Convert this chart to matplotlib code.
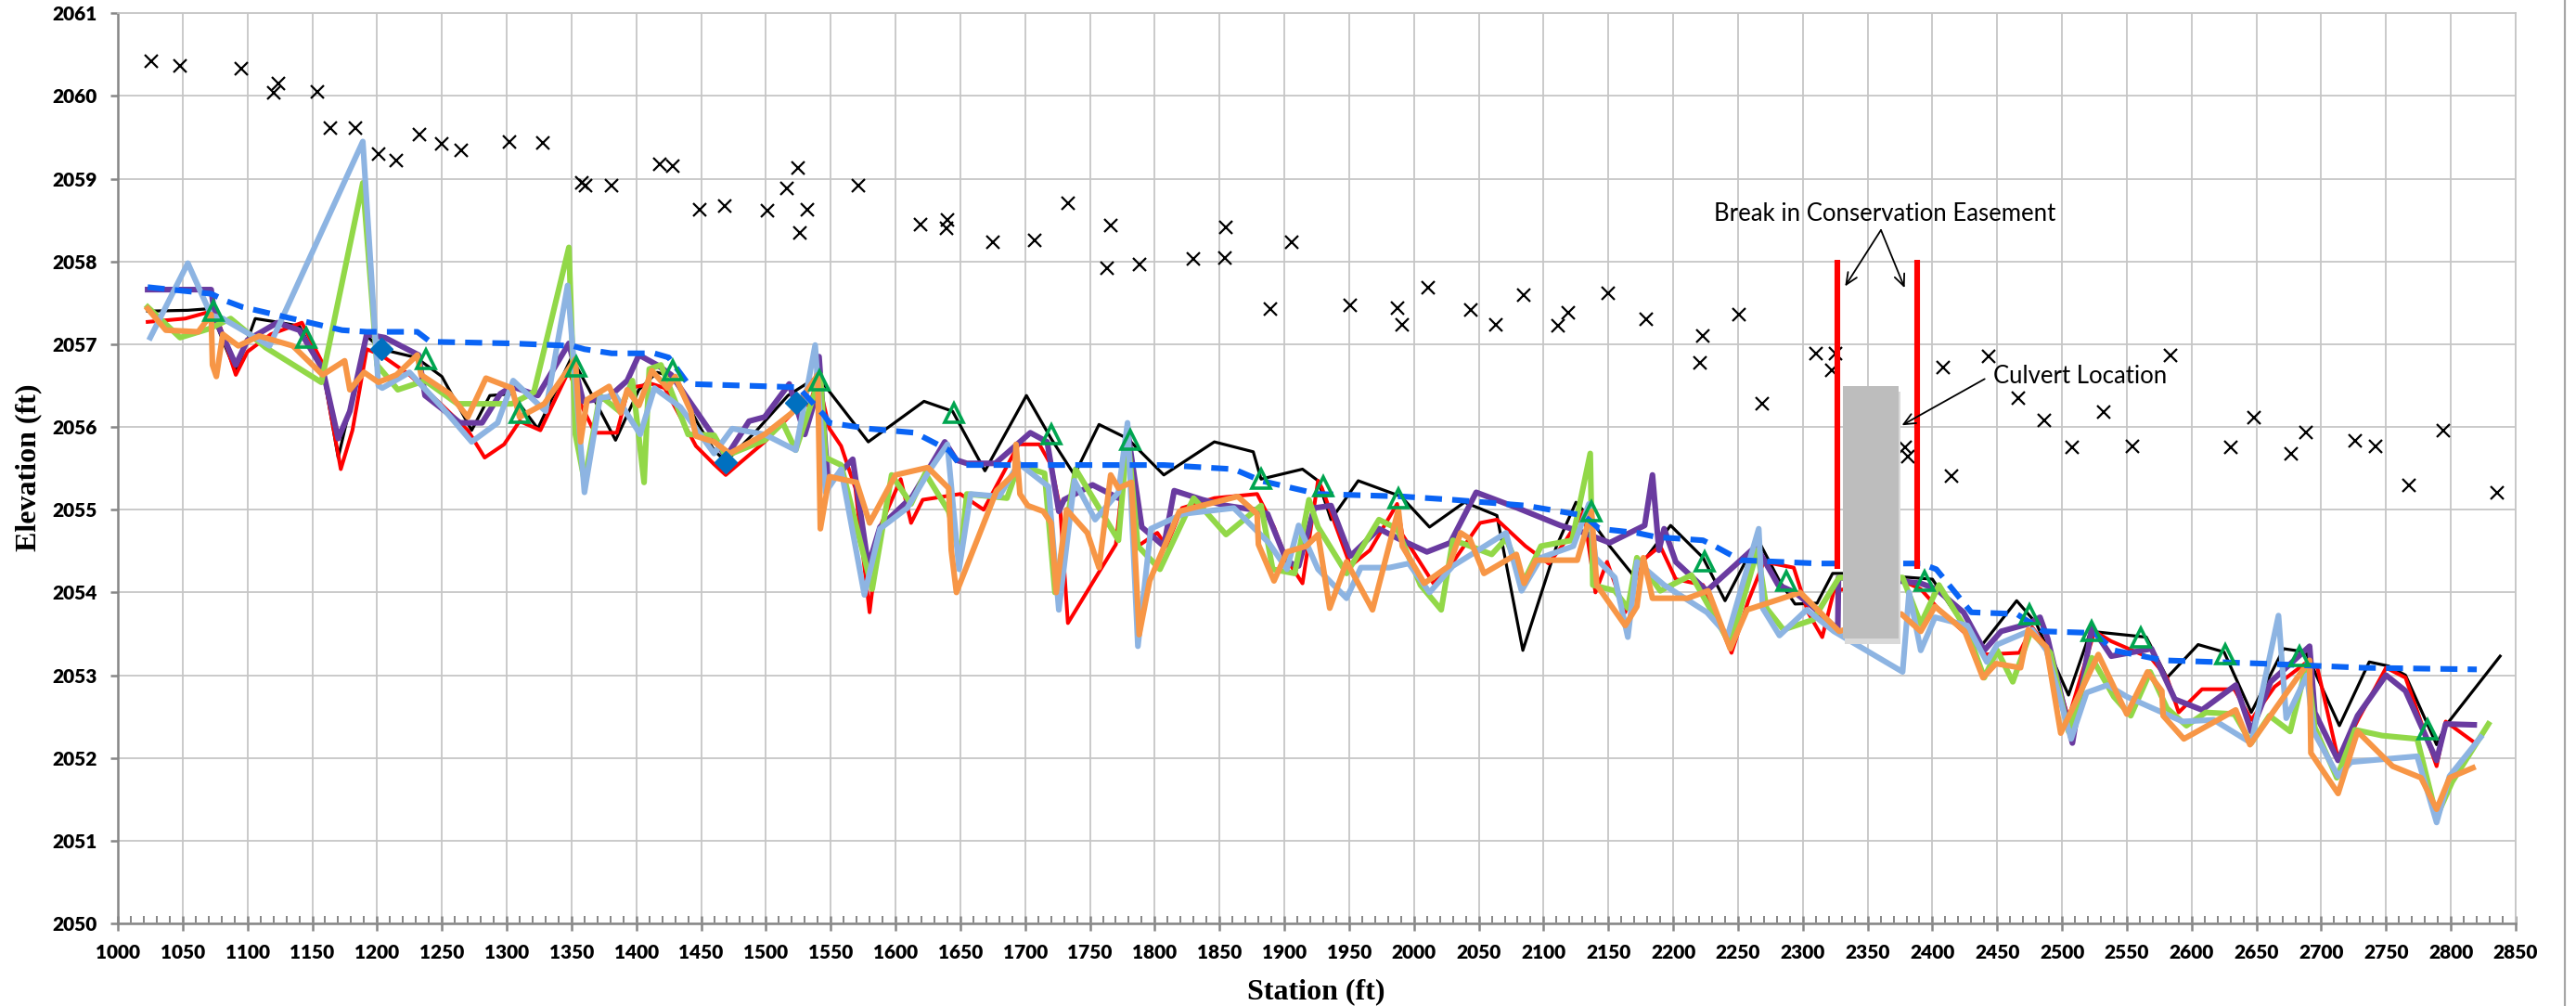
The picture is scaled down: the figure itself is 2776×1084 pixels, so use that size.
import matplotlib
matplotlib.use('Agg')
import matplotlib.pyplot as plt
from matplotlib.ticker import MultipleLocator
from matplotlib.patches import Rectangle
from matplotlib.lines import Line2D

# survey profiles: (station ft, elevation ft)
black = [(1023,2057.40),(1054,2057.41),(1071,2057.43),(1091,2056.66),(1106,2057.31),(1126,2057.26),(1140,2057.22),
         (1158,2056.70),(1170,2055.63),(1192,2057.10),(1203,2056.94),(1230,2056.84),(1250,2056.61),(1273,2055.96),
         (1287,2056.38),(1304,2056.40),(1324,2055.98),(1350,2056.84),(1363,2056.47),(1384,2055.84),(1402,2056.45),
         (1416,2056.66),(1428,2056.61),(1449,2056.00),(1460,2055.72),(1469,2055.58),(1493,2055.96),(1517,2056.38),
         (1540,2056.61),(1579,2055.82),(1622,2056.31),(1644,2056.19),(1669,2055.47),(1701,2056.38),(1720,2055.86),
         (1738,2055.42),(1757,2056.03),(1779,2055.86),(1807,2055.42),(1846,2055.82),(1876,2055.70),(1882,2055.37),
         (1914,2055.49),(1926,2055.35),(1936,2054.88),(1957,2055.35),(1990,2055.16),(2012,2054.79),(2039,2055.09),
         (2064,2054.93),(2084,2053.30),(2110,2054.56),(2125,2055.09),(2134,2054.93),(2151,2054.56),(2169,2054.21),
         (2198,2054.81),(2223,2054.42),(2240,2053.90),(2265,2054.65),(2282,2054.14),(2294,2053.86),(2311,2053.87),
         (2323,2054.23),(2330,2054.23),(2375,2054.19),(2400,2054.16),(2436,2053.32),(2465,2053.90),(2480,2053.63),
         (2505,2052.76),(2522,2053.53),(2565,2053.46),(2581,2052.97),(2605,2053.37),(2625,2053.28),(2646,2052.55),
         (2671,2053.32),(2688,2053.28),(2714,2052.39),(2737,2053.16),(2752,2053.11),(2765,2053.00),(2789,2052.16),
         (2796,2052.39),(2838,2053.23)]

red = [(1023,2057.27),(1052,2057.31),(1068,2057.38),(1075,2057.40),(1091,2056.63),(1100,2056.91),(1118,2057.12),
       (1142,2057.26),(1157,2056.80),(1172,2055.49),(1181,2055.96),(1192,2056.94),(1203,2056.87),(1225,2056.63),
       (1249,2056.28),(1270,2055.96),(1283,2055.63),(1298,2055.79),(1310,2056.07),(1326,2055.96),(1348,2056.68),
       (1357,2056.28),(1368,2055.93),(1385,2055.93),(1394,2056.47),(1412,2056.52),(1422,2056.47),(1446,2055.77),
       (1460,2055.55),(1469,2055.42),(1499,2055.82),(1523,2056.21),(1534,2056.28),(1540,2056.59),(1549,2055.98),
       (1558,2055.77),(1569,2055.26),(1580,2053.76),(1588,2054.79),(1604,2055.37),(1612,2054.84),(1621,2055.12),
       (1650,2055.19),(1668,2055.00),(1695,2055.79),(1711,2055.79),(1720,2055.54),(1727,2055.02),(1733,2053.63),
       (1770,2054.58),(1779,2055.91),(1787,2054.56),(1802,2054.72),(1809,2054.56),(1821,2055.02),(1846,2055.14),
       (1879,2055.19),(1892,2054.79),(1901,2054.42),(1914,2054.11),(1926,2055.35),(1929,2055.26),(1951,2054.32),
       (1966,2054.51),(1987,2055.07),(1991,2054.70),(2015,2054.11),(2028,2054.32),(2051,2054.84),(2064,2054.88),
       (2086,2054.56),(2104,2054.35),(2116,2054.60),(2131,2054.98),(2140,2054.00),(2149,2054.37),(2163,2053.76),
       (2175,2054.37),(2190,2054.56),(2202,2054.16),(2223,2054.09),(2245,2053.27),(2258,2053.90),(2270,2054.37),
       (2293,2054.30),(2304,2053.76),(2315,2053.46),(2324,2054.02),(2377,2054.14),(2391,2054.04),(2403,2053.83),
       (2427,2053.48),(2440,2053.25),(2467,2053.27),(2477,2053.58),(2489,2053.32),(2505,2052.48),(2525,2053.53),
       (2538,2053.41),(2569,2053.20),(2581,2052.97),(2590,2052.55),(2608,2052.83),(2633,2052.83),(2646,2052.46),
       (2664,2052.86),(2689,2053.16),(2697,2053.09),(2713,2051.99),(2729,2052.48),(2750,2053.09),(2765,2052.97),
       (2789,2051.90),(2796,2052.44),(2817,2052.20)]

purple = [(1023,2057.66),(1072,2057.66),(1075,2057.31),(1091,2056.75),(1100,2057.05),(1123,2057.26),(1140,2057.17),
          (1158,2056.70),(1170,2055.86),(1179,2056.19),(1192,2057.12),(1206,2057.08),(1232,2056.87),(1237,2056.38),
          (1264,2056.05),(1281,2056.05),(1295,2056.40),(1304,2056.49),(1324,2056.38),(1348,2057.01),(1359,2056.31),
          (1378,2056.35),(1393,2056.56),(1402,2056.87),(1416,2056.75),(1427,2056.63),(1460,2055.88),(1469,2055.63),
          (1487,2056.07),(1499,2056.12),(1518,2056.52),(1530,2055.91),(1537,2056.28),(1541,2056.85),(1548,2055.30),
          (1567,2055.61),(1579,2054.32),(1588,2054.79),(1613,2055.16),(1638,2055.82),(1647,2055.60),(1655,2055.56),
          (1677,2055.56),(1704,2055.93),(1717,2055.82),(1726,2054.98),(1730,2055.12),(1752,2055.30),(1772,2055.14),
          (1779,2055.96),(1790,2054.79),(1807,2054.56),(1815,2055.23),(1837,2055.12),(1855,2055.05),(1876,2055.00),
          (1887,2054.95),(1902,2054.37),(1911,2054.32),(1923,2055.02),(1936,2055.05),(1951,2054.44),(1973,2054.77),
          (1988,2054.65),(2010,2054.49),(2028,2054.60),(2048,2055.21),(2080,2055.02),(2113,2054.81),(2128,2054.74),
          (2151,2054.60),(2178,2054.81),(2184,2055.42),(2189,2054.51),(2193,2054.77),(2202,2054.37),(2226,2054.02),
          (2264,2054.56),(2281,2054.09),(2294,2054.00),(2309,2053.81),(2327,2053.55),(2327.5,2054.18),(2374,2054.14),
          (2391,2054.11),(2403,2054.04),(2424,2053.76),(2440,2053.30),(2453,2053.53),(2474,2053.62),(2483,2053.70),
          (2489,2053.44),(2508,2052.18),(2523,2053.58),(2538,2053.23),(2569,2053.32),(2587,2052.71),(2608,2052.58),
          (2634,2052.88),(2646,2052.32),(2661,2052.92),(2691,2053.35),(2695,2052.55),(2713,2051.97),(2728,2052.51),
          (2750,2053.00),(2765,2052.81),(2789,2051.97),(2796,2052.41),(2818,2052.40)]

green = [(1023,2057.45),(1048,2057.08),(1071,2057.19),(1087,2057.31),(1114,2056.96),(1157,2056.54),(1189,2058.95),
         (1200,2056.75),(1216,2056.45),(1237,2056.56),(1262,2056.28),(1304,2056.28),(1321,2056.42),(1348,2058.17),
         (1353,2055.91),(1360,2055.35),(1372,2056.38),(1387,2056.19),(1397,2056.56),(1406,2055.33),(1410,2056.70),
         (1419,2056.75),(1440,2055.91),(1460,2055.90),(1469,2055.65),(1499,2055.84),(1513,2056.05),(1523,2055.72),
         (1537,2056.38),(1542,2056.63),(1546,2055.63),(1558,2055.54),(1582,2054.04),(1597,2055.42),(1612,2055.07),
         (1623,2055.44),(1641,2054.98),(1650,2054.42),(1655,2055.19),(1686,2055.14),(1695,2055.54),(1715,2055.44),
         (1723,2054.00),(1739,2055.49),(1772,2054.63),(1779,2055.91),(1787,2054.56),(1804,2054.28),(1830,2055.14),
         (1855,2054.70),(1882,2055.05),(1891,2054.28),(1908,2054.23),(1919,2055.12),(1926,2054.79),(1948,2054.23),
         (1973,2054.88),(1987,2054.77),(2005,2054.09),(2021,2053.79),(2030,2054.63),(2040,2054.58),(2060,2054.46),
         (2071,2054.65),(2085,2054.14),(2098,2054.56),(2122,2054.63),(2136,2055.68),(2138,2054.09),(2155,2054.02),
         (2165,2053.81),(2172,2054.42),(2190,2054.02),(2214,2054.21),(2244,2053.37),(2265,2054.51),(2272,2053.81),
         (2285,2053.55),(2308,2053.67),(2328,2054.18),(2377,2054.18),(2391,2053.62),(2405,2054.09),(2427,2053.53),
         (2440,2052.97),(2450,2053.30),(2462,2052.92),(2476,2053.53),(2491,2053.27),(2505,2052.32),(2523,2053.21),
         (2540,2052.74),(2553,2052.51),(2568,2053.04),(2581,2052.60),(2596,2052.39),(2611,2052.55),(2633,2052.53),
         (2646,2052.18),(2660,2052.51),(2676,2052.32),(2689,2053.14),(2695,2052.37),(2712,2051.76),(2726,2052.34),
         (2747,2052.27),(2774,2052.23),(2789,2051.29),(2801,2051.71),(2829,2052.41)]

ltblue = [(1025,2057.08),(1054,2057.98),(1072,2057.35),(1081,2057.31),(1117,2056.98),(1189,2059.45),(1201,2056.50),
          (1204,2056.47),(1225,2056.66),(1250,2056.24),(1273,2055.82),(1293,2056.05),(1305,2056.56),(1330,2056.19),
          (1347,2057.71),(1360,2055.21),(1372,2056.35),(1384,2056.38),(1403,2055.91),(1414,2056.47),(1434,2056.24),
          (1460,2055.68),(1474,2055.98),(1499,2055.91),(1523,2055.72),(1538,2056.99),(1546,2055.21),(1558,2055.49),
          (1576,2053.97),(1588,2054.77),(1609,2055.02),(1626,2055.47),(1640,2055.79),(1649,2054.28),(1658,2055.19),
          (1680,2055.16),(1695,2055.56),(1718,2055.28),(1726,2053.79),(1738,2055.35),(1754,2054.88),(1772,2055.21),
          (1779,2056.05),(1787,2053.35),(1797,2054.77),(1822,2054.95),(1861,2055.02),(1888,2054.60),(1902,2054.28),
          (1911,2054.81),(1926,2054.28),(1948,2053.93),(1959,2054.30),(1981,2054.30),(1996,2054.35),(2012,2054.00),
          (2030,2054.32),(2071,2054.72),(2083,2054.02),(2098,2054.42),(2123,2054.56),(2135,2055.07),(2140,2054.42),
          (2155,2054.18),(2165,2053.46),(2172,2054.37),(2193,2054.09),(2226,2053.76),(2242,2053.48),(2266,2054.77),
          (2269,2053.81),(2282,2053.48),(2303,2053.79),(2324,2053.53),(2377,2053.04),(2382,2054.00),(2391,2053.30),
          (2402,2053.70),(2427,2053.60),(2442,2053.16),(2450,2053.37),(2477,2053.55),(2488,2053.30),(2507,2052.23),
          (2519,2052.79),(2535,2052.88),(2550,2052.74),(2593,2052.44),(2617,2052.46),(2646,2052.18),(2667,2053.72),
          (2673,2052.48),(2689,2053.00),(2694,2052.32),(2713,2051.78),(2723,2051.95),(2774,2052.02),(2789,2051.22),
          (2799,2051.78),(2823,2052.25)]

orange = [(1023,2057.43),(1037,2057.17),(1062,2057.15),(1072,2057.36),(1073,2056.75),(1076,2056.61),(1081,2057.12),
          (1093,2056.98),(1109,2057.10),(1135,2056.98),(1158,2056.63),(1175,2056.80),(1179,2056.45),(1190,2056.66),
          (1201,2056.54),(1215,2056.63),(1231,2056.87),(1234,2056.63),(1256,2056.40),(1270,2056.12),(1284,2056.59),
          (1304,2056.47),(1310,2056.12),(1329,2056.28),(1353,2056.82),(1357,2055.82),(1362,2056.33),(1379,2056.49),
          (1388,2056.17),(1393,2056.45),(1402,2056.26),(1412,2056.68),(1424,2056.47),(1430,2056.61),(1442,2056.19),
          (1446,2055.89),(1460,2055.82),(1472,2055.68),(1499,2055.91),(1520,2056.17),(1540,2056.63),(1542,2054.77),
          (1549,2055.40),(1570,2055.33),(1580,2054.84),(1600,2055.42),(1625,2055.51),(1641,2055.26),(1643,2054.51),
          (1647,2054.00),(1678,2055.23),(1692,2055.44),(1693,2055.79),(1696,2055.19),(1702,2055.05),(1714,2054.98),
          (1720,2054.84),(1724,2054.00),(1732,2055.00),(1748,2054.72),(1757,2054.30),(1766,2055.42),(1772,2055.26),
          (1782,2055.33),(1788,2053.49),(1796,2054.14),(1819,2054.98),(1864,2055.16),(1879,2054.95),(1880,2054.58),
          (1892,2054.14),(1902,2054.49),(1917,2054.56),(1926,2054.70),(1935,2053.81),(1948,2054.37),(1968,2053.79),
          (1988,2055.00),(1991,2054.56),(2008,2054.11),(2027,2054.32),(2036,2054.72),(2043,2054.65),(2054,2054.23),
          (2079,2054.46),(2085,2054.11),(2094,2054.39),(2126,2054.39),(2137,2054.98),(2141,2054.09),(2163,2053.60),
          (2172,2053.83),(2177,2054.42),(2184,2053.93),(2211,2053.93),(2227,2054.02),(2244,2053.32),(2257,2053.79),
          (2298,2054.00),(2328,2053.53),(2376,2053.74),(2391,2053.53),(2402,2053.83),(2425,2053.53),(2439,2052.97),
          (2449,2053.14),(2468,2053.09),(2474,2053.55),(2488,2053.34),(2499,2052.30),(2528,2053.25),(2550,2052.53),
          (2566,2053.04),(2577,2052.81),(2578,2052.51),(2594,2052.23),(2634,2052.58),(2645,2052.16),(2691,2053.18),
          (2692,2052.06),(2713,2051.57),(2728,2052.32),(2755,2051.90),(2777,2051.76),(2789,2051.38),(2799,2051.76),
          (2817,2051.88)]

design = [(1023,2057.69),(1072,2057.61),(1084,2057.52),(1096,2057.45),(1173,2057.17),(1192,2057.15),(1231,2057.15),
          (1241,2057.03),(1304,2057.01),(1351,2056.98),(1360,2056.94),(1381,2056.89),(1414,2056.89),(1425,2056.84),
          (1440,2056.52),(1525,2056.48),(1545,2056.14),(1549,2056.05),(1579,2055.98),(1615,2055.93),(1641,2055.72),
          (1650,2055.54),(1807,2055.54),(1861,2055.49),(1882,2055.35),(1926,2055.19),(1991,2055.16),(2030,2055.12),
          (2086,2055.05),(2131,2054.93),(2143,2054.77),(2172,2054.72),(2187,2054.67),(2223,2054.63),(2232,2054.56),
          (2252,2054.39),(2312,2054.35),(2391,2054.35),(2403,2054.28),(2430,2053.76),(2465,2053.74),(2486,2053.53),
          (2525,2053.51),(2540,2053.30),(2578,2053.18),(2655,2053.14),(2732,2053.09),(2820,2053.07)]

riffles = [(1074,2057.40),(1145,2057.08),(1238,2056.82),(1310,2056.17),(1354,2056.73),(1428,2056.68),(1541,2056.56),
           (1645,2056.17),(1720,2055.91),(1781,2055.84),(1882,2055.37),(1930,2055.28),(1988,2055.14),(2137,2054.98),
           (2224,2054.37),(2287,2054.14),(2394,2054.14),(2475,2053.74),(2523,2053.53),(2561,2053.46),(2626,2053.25),
           (2683,2053.23),(2782,2052.34)]

diamonds = [(1203,2056.94),(1469,2055.58),(1523,2056.29)]

bank = [(1026,2060.42),(1048,2060.36),(1095,2060.33),(1120,2060.04),(1124,2060.15),(1154,2060.05),(1164,2059.61),
        (1183,2059.61),(1201,2059.30),(1215,2059.22),(1233,2059.53),(1250,2059.42),(1265,2059.34),(1302,2059.44),
        (1328,2059.43),(1358,2058.95),(1361,2058.92),(1381,2058.92),(1418,2059.17),(1428,2059.15),(1449,2058.62),
        (1468,2058.67),(1501,2058.61),(1516,2058.88),(1525,2059.13),(1532,2058.63),(1526,2058.34),(1571,2058.92),
        (1619,2058.45),(1640,2058.50),(1639,2058.40),(1675,2058.23),(1707,2058.26),(1733,2058.70),(1766,2058.43),
        (1763,2057.92),(1788,2057.96),(1830,2058.03),(1855,2058.41),(1854,2058.04),(1889,2057.43),(1906,2058.23),
        (1951,2057.47),(1987,2057.44),(1991,2057.24),(2011,2057.68),(2044,2057.41),(2063,2057.24),(2085,2057.59),
        (2111,2057.22),(2119,2057.38),(2150,2057.62),(2179,2057.30),(2223,2057.10),(2221,2056.78),(2251,2057.36),
        (2269,2056.28),(2310,2056.89),(2325,2056.89),(2322,2056.68),(2379,2055.75),(2381,2055.64),(2408,2056.72),
        (2415,2055.41),(2443,2056.85),(2466,2056.35),(2486,2056.08),(2508,2055.75),(2532,2056.18),(2554,2055.77),
        (2584,2056.86),(2630,2055.75),(2648,2056.11),(2677,2055.68),(2688,2055.93),(2726,2055.83),(2742,2055.77),
        (2768,2055.29),(2794,2055.96),(2836,2055.21)]

easement_x = [2327, 2388]
culvert = (2331, 2374, 2053.44, 2056.49)

GRID = '#C6C6C6'
AXC = '#868686'

fig = plt.figure(figsize=(27.76, 10.84), dpi=100)
ax = fig.add_axes([0.04575, 0.0821, 0.93083, 0.90471])

def draw(pts, **kw):
    xs = [p[0] for p in pts]
    ys = [p[1] for p in pts]
    return ax.plot(xs, ys, **kw)

draw(black, color='black', lw=2.3, zorder=3)
draw(red, color='#FF0000', lw=2.9, zorder=3.1)
draw(purple, color='#6A3BA0', lw=4.4, zorder=3.2)
draw(green, color='#92D848', lw=4.4, zorder=3.3)
draw(ltblue, color='#8DB4E2', lw=4.4, zorder=3.4)
draw(orange, color='#F79646', lw=4.4, zorder=3.5)
draw(design, color='#0A64F5', lw=4.4, ls=(0, (3.0, 1.8)), zorder=3.6)
draw(riffles, ls='none', marker='^', ms=15, mfc='none', mec='#00A550', mew=2.6, zorder=4)
draw(diamonds, ls='none', marker='D', ms=12, mfc='#0070C0', mec='#0070C0', zorder=4.1)
draw(bank, ls='none', marker='x', ms=10, mec='black', mew=1.6, zorder=4.2)

# culvert block
x0, x1, y0, y1 = culvert
ax.add_patch(Rectangle((x0 + 1.5, y0 - 0.06), x1 - x0, y1 - y0, facecolor='#D9D9D9', edgecolor='none', zorder=5))
ax.add_patch(Rectangle((x0, y0), x1 - x0, y1 - y0, facecolor='#BDBDBD', edgecolor='none', zorder=5.1))

for ex in easement_x:
    ax.plot([ex, ex], [2054.28, 2058.02], color='#FF0000', lw=4.4, solid_capstyle='butt', zorder=6)

afont = dict(family='Lato', fontsize=18.5, color='black')
ax.text(2363, 2058.58, 'Break in Conservation Easement', ha='center', va='center', zorder=7, **afont)
aprops = dict(arrowstyle='->,head_length=0.9,head_width=0.4', color='black', lw=1.3, shrinkA=0, shrinkB=0)
ax.annotate('', xy=(2332.6, 2057.70), xytext=(2360.3, 2058.38), arrowprops=aprops, zorder=7)
ax.annotate('', xy=(2378.6, 2057.68), xytext=(2360.3, 2058.38), arrowprops=aprops, zorder=7)
ax.text(2447, 2056.61, 'Culvert Location', ha='left', va='center', zorder=7, **afont)
ax.annotate('', xy=(2376.4, 2056.02), xytext=(2440.3, 2056.58), arrowprops=aprops, zorder=7)

ax.set_xlim(1000, 2850)
ax.set_ylim(2050, 2061)
ax.xaxis.set_major_locator(MultipleLocator(50))
ax.xaxis.set_minor_locator(MultipleLocator(10))
ax.yaxis.set_major_locator(MultipleLocator(1))

ax.grid(True, which='major', color=GRID, lw=1.3, zorder=0)
ax.set_axisbelow(True)
for s in ['left', 'bottom']:
    ax.spines[s].set_color(AXC)
    ax.spines[s].set_linewidth(1.8)
for s in ['top', 'right']:
    ax.spines[s].set_color(GRID)
    ax.spines[s].set_linewidth(1.3)

ax.tick_params(axis='x', which='major', direction='inout', length=12, width=1.8, color=AXC, pad=10)
ax.tick_params(axis='x', which='minor', direction='in', length=6, width=1.4, color=AXC)
ax.tick_params(axis='y', which='major', direction='out', length=6, width=1.8, color=AXC, pad=10)
for lab in ax.get_xticklabels() + ax.get_yticklabels():
    lab.set_fontfamily('Lato')
    lab.set_fontweight('heavy')
    lab.set_fontsize(15)

tfont = dict(family='Liberation Serif', fontweight='bold', fontsize=23)
fig.text(0.5108, 0.0138, 'Station (ft)', ha='center', va='center', **tfont)
fig.text(0.0112, 0.535, 'Elevation (ft)', ha='center', va='center', rotation=90, **tfont)

# chart frame edge on the right
fig.add_artist(Line2D([0.9956, 0.9956], [0, 1], transform=fig.transFigure, color='#A6A6A6', lw=1.6))

fig.savefig('out.png', dpi=100)
